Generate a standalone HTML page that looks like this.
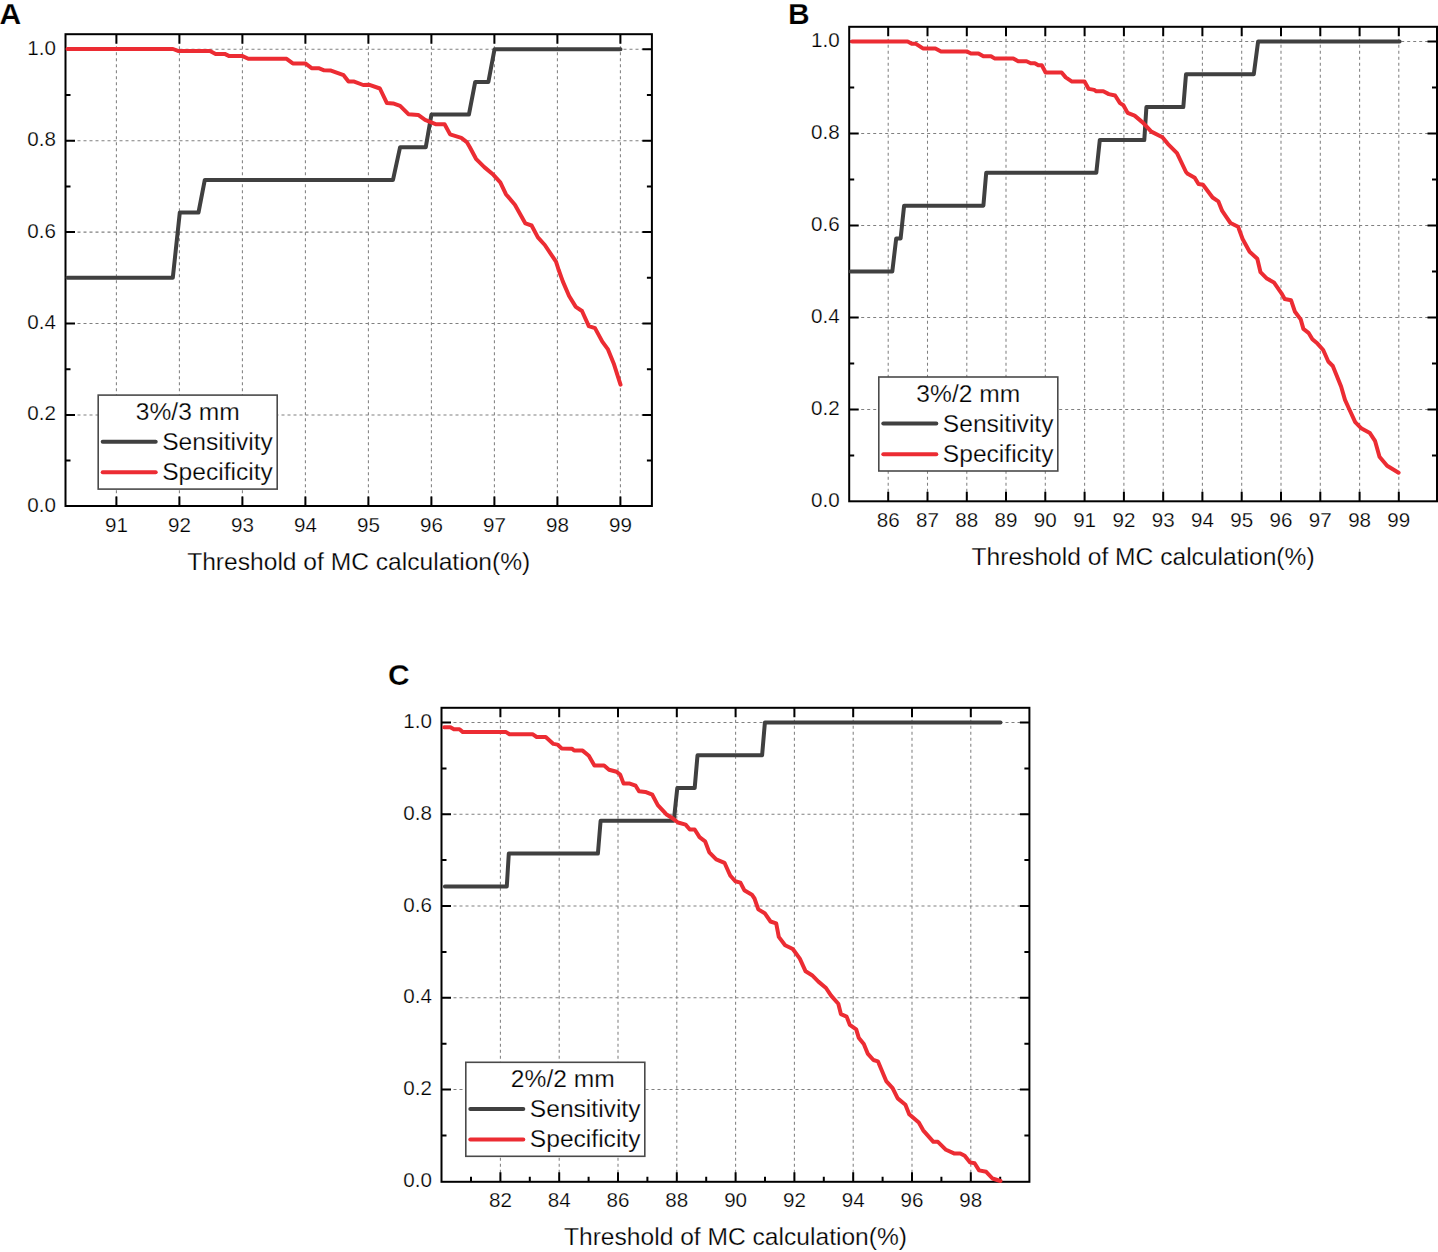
<!DOCTYPE html>
<html><head><meta charset="utf-8"><title>MC threshold sensitivity/specificity</title>
<style>html,body{margin:0;padding:0;background:#fff;width:1438px;height:1252px;overflow:hidden}svg{display:block}</style></head>
<body><svg width="1438" height="1252" viewBox="0 0 1438 1252" font-family='"Liberation Sans", sans-serif'><style>text{stroke:#fff;stroke-width:0.25px}</style>
<rect width="1438" height="1252" fill="#fff"/>
<path d="M116.4 34.2V506M179.4 34.2V506M242.4 34.2V506M305.4 34.2V506M368.4 34.2V506M431.4 34.2V506M494.4 34.2V506M557.4 34.2V506M620.4 34.2V506M65.5 414.9H651.9M65.5 323.5H651.9M65.5 232.1H651.9M65.5 140.7H651.9M65.5 49.3H651.9" stroke="#808080" stroke-width="1.05" stroke-dasharray="3 3" fill="none"/>
<path d="M116.4 506v-9.5M116.4 34.2v9.5M179.4 506v-9.5M179.4 34.2v9.5M242.4 506v-9.5M242.4 34.2v9.5M305.4 506v-9.5M305.4 34.2v9.5M368.4 506v-9.5M368.4 34.2v9.5M431.4 506v-9.5M431.4 34.2v9.5M494.4 506v-9.5M494.4 34.2v9.5M557.4 506v-9.5M557.4 34.2v9.5M620.4 506v-9.5M620.4 34.2v9.5M65.5 460.6h5M651.9 460.6h-5M65.5 414.9h9.5M651.9 414.9h-9.5M65.5 369.2h5M651.9 369.2h-5M65.5 323.5h9.5M651.9 323.5h-9.5M65.5 277.8h5M651.9 277.8h-5M65.5 232.1h9.5M651.9 232.1h-9.5M65.5 186.4h5M651.9 186.4h-5M65.5 140.7h9.5M651.9 140.7h-9.5M65.5 95h5M651.9 95h-5M65.5 49.3h9.5M651.9 49.3h-9.5" stroke="#000" stroke-width="2" fill="none"/>
<rect x="65.5" y="34.2" width="586.4" height="471.8" stroke="#000" stroke-width="2" fill="none"/>
<path d="M67.5,277.8 172.8,277.8 179.8,212.5 198.5,212.5 204.8,179.9 393,179.9 400.1,147.2 425.8,147.2 431.4,114.6 468.9,114.6 475.2,81.9 488.4,81.9 494.5,49.3 620.5,49.3" stroke="#404040" stroke-width="4" fill="none" stroke-linejoin="round" stroke-linecap="round"/>
<path d="M67.5,49 173,49 178,50.9 210,50.9 215.6,53.9 224.7,53.9 228.8,55.9 242,55.9 248.3,58.8 286.6,58.8 292.8,63.4 305.3,63.4 311.6,68.2 318.6,68.2 324.1,70.3 331,70.6 338,73.1 343.6,75.2 348.5,81.5 354.2,81.6 363.2,85 369.5,84.8 379.9,88.5 386.9,103.1 393.1,103.4 400.1,105.9 408.4,114.2 418.2,114.9 425.1,119.8 436.2,124.3 444.6,124.3 450.1,134.4 461.3,137.9 466.8,142.1 469.7,147 476,158.8 484.3,167.1 493.4,174.8 500.3,182.4 505.9,194.2 514.9,204.7 525.4,223.4 531.6,225.5 537.9,237.4 544.8,245 556,261.7 558.7,270 562.8,281.4 569.1,296 575.8,306.9 582,311 588.8,326.1 595,328.1 602.3,341.6 608,349.4 613.7,363.4 620.5,384.7" stroke="#ec2c33" stroke-width="4" fill="none" stroke-linejoin="round" stroke-linecap="round"/>
<g font-size="20.6" fill="#000"><text x="116.4" y="531.6" text-anchor="middle">91</text><text x="179.4" y="531.6" text-anchor="middle">92</text><text x="242.4" y="531.6" text-anchor="middle">93</text><text x="305.4" y="531.6" text-anchor="middle">94</text><text x="368.4" y="531.6" text-anchor="middle">95</text><text x="431.4" y="531.6" text-anchor="middle">96</text><text x="494.4" y="531.6" text-anchor="middle">97</text><text x="557.4" y="531.6" text-anchor="middle">98</text><text x="620.4" y="531.6" text-anchor="middle">99</text><text x="56" y="511.8" text-anchor="end">0.0</text><text x="56" y="420.4" text-anchor="end">0.2</text><text x="56" y="329" text-anchor="end">0.4</text><text x="56" y="237.6" text-anchor="end">0.6</text><text x="56" y="146.2" text-anchor="end">0.8</text><text x="56" y="54.8" text-anchor="end">1.0</text></g>
<text x="358.7" y="569.5" text-anchor="middle" font-size="24.6">Threshold of MC calculation(%)</text>
<rect x="98.2" y="395.1" width="179" height="94" stroke="#4a4a4a" stroke-width="1.6" fill="#fff"/>
<text x="187.7" y="420.1" text-anchor="middle" font-size="24.6">3%/3 mm</text>
<path d="M102.7 441.7h53" stroke="#404040" stroke-width="4" stroke-linecap="round"/>
<path d="M102.7 472.3h53" stroke="#ec2c33" stroke-width="4" stroke-linecap="round"/>
<text x="162.2" y="449.7" font-size="24.6">Sensitivity</text>
<text x="162.2" y="480.1" font-size="24.6">Specificity</text>
<text x="-0.5" y="24.4" font-size="30" font-weight="bold">A</text>
<path d="M888.2 26.8V501.3M927.5 26.8V501.3M966.8 26.8V501.3M1006 26.8V501.3M1045.3 26.8V501.3M1084.6 26.8V501.3M1123.9 26.8V501.3M1163.2 26.8V501.3M1202.4 26.8V501.3M1241.7 26.8V501.3M1281 26.8V501.3M1320.3 26.8V501.3M1359.6 26.8V501.3M1398.8 26.8V501.3M849.2 409.4H1437M849.2 317.4H1437M849.2 225.4H1437M849.2 133.4H1437M849.2 41.4H1437" stroke="#808080" stroke-width="1.05" stroke-dasharray="3 3" fill="none"/>
<path d="M888.2 501.3v-9.5M888.2 26.8v9.5M927.5 501.3v-9.5M927.5 26.8v9.5M966.8 501.3v-9.5M966.8 26.8v9.5M1006 501.3v-9.5M1006 26.8v9.5M1045.3 501.3v-9.5M1045.3 26.8v9.5M1084.6 501.3v-9.5M1084.6 26.8v9.5M1123.9 501.3v-9.5M1123.9 26.8v9.5M1163.2 501.3v-9.5M1163.2 26.8v9.5M1202.4 501.3v-9.5M1202.4 26.8v9.5M1241.7 501.3v-9.5M1241.7 26.8v9.5M1281 501.3v-9.5M1281 26.8v9.5M1320.3 501.3v-9.5M1320.3 26.8v9.5M1359.6 501.3v-9.5M1359.6 26.8v9.5M1398.8 501.3v-9.5M1398.8 26.8v9.5M849.2 455.4h5M1437 455.4h-5M849.2 409.4h9.5M1437 409.4h-9.5M849.2 363.4h5M1437 363.4h-5M849.2 317.4h9.5M1437 317.4h-9.5M849.2 271.4h5M1437 271.4h-5M849.2 225.4h9.5M1437 225.4h-9.5M849.2 179.4h5M1437 179.4h-5M849.2 133.4h9.5M1437 133.4h-9.5M849.2 87.4h5M1437 87.4h-5M849.2 41.4h9.5M1437 41.4h-9.5" stroke="#000" stroke-width="2" fill="none"/>
<rect x="849.2" y="26.8" width="587.8" height="474.5" stroke="#000" stroke-width="2" fill="none"/>
<path d="M850.6,271.4 892.3,271.4 896.2,238.5 900.6,238.5 904.1,205.7 983.4,205.7 986.2,172.8 1096.3,172.8 1099.8,140 1144.3,140 1146.4,107.1 1183.3,107.1 1186,74.3 1253.8,74.3 1258.1,41.4 1399.6,41.4" stroke="#404040" stroke-width="4" fill="none" stroke-linejoin="round" stroke-linecap="round"/>
<path d="M852,41.4 907.6,41.4 911.8,43.8 915.9,43.8 922.9,48.4 935.4,48.4 941,51.4 966.7,51.4 970.9,53.5 978.5,53.5 983.4,56.3 991,56.3 994.5,58.4 1013.3,58.4 1018.2,61.2 1026.5,61.2 1030.7,63.2 1034.8,63.2 1038.3,65.3 1041.8,65.3 1045.6,72.5 1061.6,72.5 1065.7,77.4 1072,81.6 1084.5,81.6 1088.7,88.9 1094.2,89.9 1096.3,91.3 1103.3,91.3 1108.8,94.1 1115.1,95.5 1120,103.1 1123.4,105.2 1127.6,112.9 1134.6,115.6 1142.9,122.6 1151.3,131.6 1162.4,137.2 1168,144.1 1177,153.2 1186,172 1187.7,173.8 1194.7,177.7 1198.5,184.1 1203,184.7 1212.6,197.5 1218.3,201.3 1222.2,210.9 1226.6,217.3 1230.5,223 1238.1,226.8 1242.6,239 1249.6,251.7 1257.3,258.8 1260.5,272.2 1266.9,278.6 1273.9,282.4 1281.5,293.3 1284.7,299 1291.1,300.3 1295,311.8 1300.7,319.4 1303.4,328.9 1308.5,332.8 1312.4,339.2 1317.5,343.6 1323.2,350 1328.3,361.5 1332.8,366 1341.1,386.5 1345,399.9 1349.4,409.5 1355.2,422.2 1361.6,428.6 1369.9,433.1 1375,440.8 1379.5,456.7 1387.1,465.7 1398.6,472.7" stroke="#ec2c33" stroke-width="4" fill="none" stroke-linejoin="round" stroke-linecap="round"/>
<g font-size="20.6" fill="#000"><text x="888.2" y="526.9" text-anchor="middle">86</text><text x="927.5" y="526.9" text-anchor="middle">87</text><text x="966.8" y="526.9" text-anchor="middle">88</text><text x="1006" y="526.9" text-anchor="middle">89</text><text x="1045.3" y="526.9" text-anchor="middle">90</text><text x="1084.6" y="526.9" text-anchor="middle">91</text><text x="1123.9" y="526.9" text-anchor="middle">92</text><text x="1163.2" y="526.9" text-anchor="middle">93</text><text x="1202.4" y="526.9" text-anchor="middle">94</text><text x="1241.7" y="526.9" text-anchor="middle">95</text><text x="1281" y="526.9" text-anchor="middle">96</text><text x="1320.3" y="526.9" text-anchor="middle">97</text><text x="1359.6" y="526.9" text-anchor="middle">98</text><text x="1398.8" y="526.9" text-anchor="middle">99</text><text x="839.7" y="506.9" text-anchor="end">0.0</text><text x="839.7" y="414.9" text-anchor="end">0.2</text><text x="839.7" y="322.9" text-anchor="end">0.4</text><text x="839.7" y="230.9" text-anchor="end">0.6</text><text x="839.7" y="138.9" text-anchor="end">0.8</text><text x="839.7" y="46.9" text-anchor="end">1.0</text></g>
<text x="1143.1" y="564.8" text-anchor="middle" font-size="24.6">Threshold of MC calculation(%)</text>
<rect x="878.8" y="377" width="179" height="94" stroke="#4a4a4a" stroke-width="1.6" fill="#fff"/>
<text x="968.3" y="402" text-anchor="middle" font-size="24.6">3%/2 mm</text>
<path d="M883.3 423.6h53" stroke="#404040" stroke-width="4" stroke-linecap="round"/>
<path d="M883.3 454.2h53" stroke="#ec2c33" stroke-width="4" stroke-linecap="round"/>
<text x="942.8" y="431.6" font-size="24.6">Sensitivity</text>
<text x="942.8" y="462" font-size="24.6">Specificity</text>
<text x="788" y="24.4" font-size="30" font-weight="bold">B</text>
<path d="M500.4 707.8V1181.8M559.2 707.8V1181.8M618 707.8V1181.8M676.8 707.8V1181.8M735.6 707.8V1181.8M794.4 707.8V1181.8M853.2 707.8V1181.8M912 707.8V1181.8M970.8 707.8V1181.8M441.5 1089.5H1029.4M441.5 997.8H1029.4M441.5 906H1029.4M441.5 814.3H1029.4M441.5 722.5H1029.4" stroke="#808080" stroke-width="1.05" stroke-dasharray="3 3" fill="none"/>
<path d="M500.4 1181.8v-9.5M500.4 707.8v9.5M559.2 1181.8v-9.5M559.2 707.8v9.5M618 1181.8v-9.5M618 707.8v9.5M676.8 1181.8v-9.5M676.8 707.8v9.5M735.6 1181.8v-9.5M735.6 707.8v9.5M794.4 1181.8v-9.5M794.4 707.8v9.5M853.2 1181.8v-9.5M853.2 707.8v9.5M912 1181.8v-9.5M912 707.8v9.5M970.8 1181.8v-9.5M970.8 707.8v9.5M471 1181.8v-5M529.8 1181.8v-5M588.6 1181.8v-5M647.4 1181.8v-5M706.2 1181.8v-5M765 1181.8v-5M823.8 1181.8v-5M882.6 1181.8v-5M941.4 1181.8v-5M1000.2 1181.8v-5M441.5 1135.4h5M1029.4 1135.4h-5M441.5 1089.5h9.5M1029.4 1089.5h-9.5M441.5 1043.7h5M1029.4 1043.7h-5M441.5 997.8h9.5M1029.4 997.8h-9.5M441.5 951.9h5M1029.4 951.9h-5M441.5 906h9.5M1029.4 906h-9.5M441.5 860.1h5M1029.4 860.1h-5M441.5 814.3h9.5M1029.4 814.3h-9.5M441.5 768.4h5M1029.4 768.4h-5M441.5 722.5h9.5M1029.4 722.5h-9.5" stroke="#000" stroke-width="2" fill="none"/>
<rect x="441.5" y="707.8" width="587.9" height="474" stroke="#000" stroke-width="2" fill="none"/>
<path d="M444.9,886.4 506.8,886.4 508.8,853.6 597.9,853.6 600.6,820.8 673.8,820.8 677.3,788 694.7,788 697.5,755.3 762.1,755.3 764.9,722.5 1000.5,722.5" stroke="#404040" stroke-width="4" fill="none" stroke-linejoin="round" stroke-linecap="round"/>
<path d="M444.2,727.3 450.4,727.3 453.9,729.3 459.5,729.3 462.9,732.1 506.1,732.1 509.5,734.2 532.5,734.2 536.7,737 545.7,737 553.4,743.9 557.5,744.6 561.7,748.4 572.1,748.8 574.2,750.6 582.6,750.6 588.8,755.8 594.4,765.5 604.1,765.5 609,769.7 616.6,771.8 620.1,774.5 623.6,783.6 629.8,783.6 635.6,785.7 639,791.2 645.3,791.9 652.3,794.7 657.8,805.1 666.2,814.2 671.7,817.7 678,822.5 685.6,824.6 689.8,829.5 694.7,829.5 699.5,837.1 705.1,841.3 709.3,852.4 716.2,859.4 724.5,862.8 730.2,875.5 735.3,881.3 740.4,882.6 744.3,890.2 751.9,894.7 754.5,898.5 758.3,909.4 764.7,913.2 770.5,921.5 776.2,923.4 778.8,936.9 785.1,945.2 792.8,949 799.8,958.6 805.6,971.3 812,975.2 818.4,981.6 826,988 831.1,995.6 838.3,1003.8 840.9,1014.1 846.6,1016.6 849.8,1024.9 856.2,1029.4 858.7,1037.7 863.8,1044.1 867.7,1053.6 873.4,1060 877.9,1061.3 886.2,1081.1 892.6,1088.1 897.7,1098.4 905.4,1104.7 909.2,1114.3 918.8,1122.6 923.2,1130.3 933.4,1141.8 937.9,1141.8 946,1149.8 954,1153.4 960.3,1153.4 964.7,1155.7 970.1,1162.4 974.6,1163.3 979.1,1170.4 986.2,1171.8 992.5,1178.5 1000.5,1181" stroke="#ec2c33" stroke-width="4" fill="none" stroke-linejoin="round" stroke-linecap="round"/>
<g font-size="20.6" fill="#000"><text x="500.4" y="1207.4" text-anchor="middle">82</text><text x="559.2" y="1207.4" text-anchor="middle">84</text><text x="618" y="1207.4" text-anchor="middle">86</text><text x="676.8" y="1207.4" text-anchor="middle">88</text><text x="735.6" y="1207.4" text-anchor="middle">90</text><text x="794.4" y="1207.4" text-anchor="middle">92</text><text x="853.2" y="1207.4" text-anchor="middle">94</text><text x="912" y="1207.4" text-anchor="middle">96</text><text x="970.8" y="1207.4" text-anchor="middle">98</text><text x="432" y="1186.8" text-anchor="end">0.0</text><text x="432" y="1095" text-anchor="end">0.2</text><text x="432" y="1003.3" text-anchor="end">0.4</text><text x="432" y="911.5" text-anchor="end">0.6</text><text x="432" y="819.8" text-anchor="end">0.8</text><text x="432" y="728" text-anchor="end">1.0</text></g>
<text x="735.5" y="1245.3" text-anchor="middle" font-size="24.6">Threshold of MC calculation(%)</text>
<rect x="465.8" y="1062.3" width="179" height="94" stroke="#4a4a4a" stroke-width="1.6" fill="#fff"/>
<text x="562.8" y="1087.3" text-anchor="middle" font-size="24.6">2%/2 mm</text>
<path d="M470.3 1108.9h53" stroke="#404040" stroke-width="4" stroke-linecap="round"/>
<path d="M470.3 1139.5h53" stroke="#ec2c33" stroke-width="4" stroke-linecap="round"/>
<text x="529.8" y="1116.9" font-size="24.6">Sensitivity</text>
<text x="529.8" y="1147.3" font-size="24.6">Specificity</text>
<text x="388" y="685" font-size="30" font-weight="bold">C</text>
</svg></body></html>
